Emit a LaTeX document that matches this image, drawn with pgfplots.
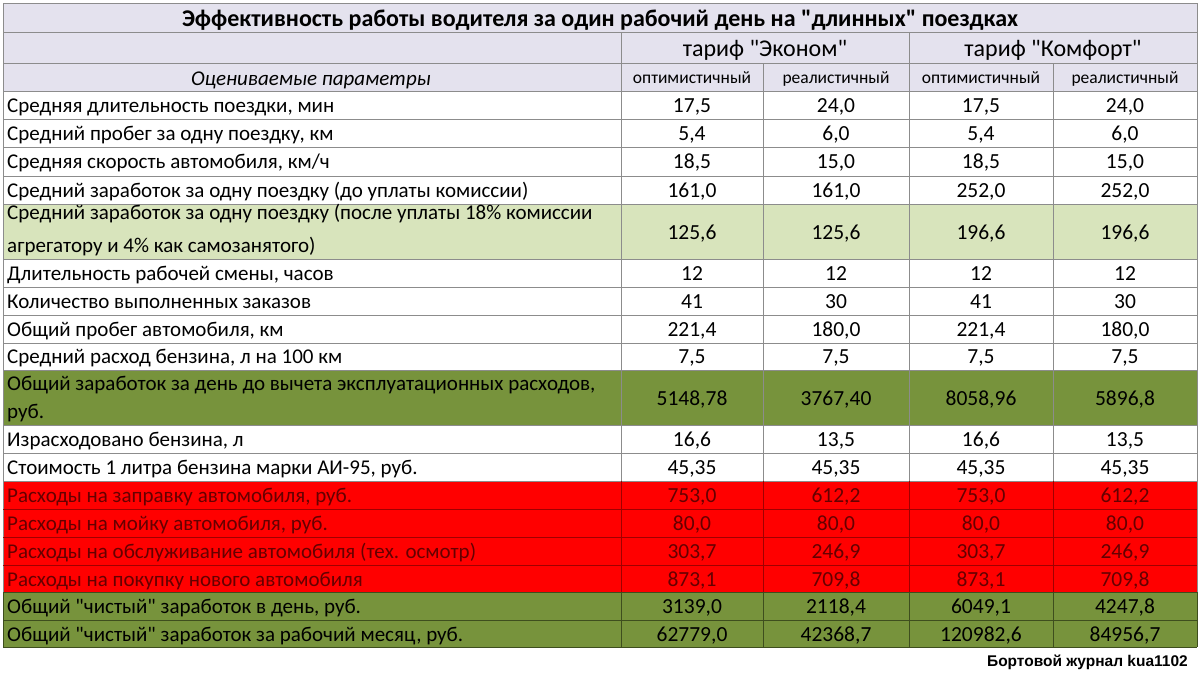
\documentclass[border=0pt]{standalone}
\usepackage{fontspec}
\setmainfont{Carlito}[Ligatures=TeXOff]
\newfontfamily\arialfont{Liberation Sans}[Ligatures=TeXOff]
\usepackage{pgfplots}
\pgfplotsset{compat=1.18}
\definecolor{hdr}{HTML}{E4E2EE}
\definecolor{lgreen}{HTML}{D8E4BC}
\definecolor{olive}{HTML}{77933C}
\definecolor{xred}{HTML}{FF0000}
\definecolor{redtxt}{HTML}{650000}
\definecolor{gridc}{HTML}{8C8C8C}
\definecolor{redline}{HTML}{A00000}
\definecolor{oliveline}{HTML}{3E4E1E}
\newcommand\fs[1]{\fontsize{#1}{#1}\selectfont}
\newcommand\hl[3]{\addplot[gridc, line width=1pt] coordinates {(#1,#3) (#2,#3)};}
\newcommand\vl[3]{\addplot[gridc, line width=1pt] coordinates {(#1,#2) (#1,#3)};}
\newcommand\rhl[4]{\addplot[#4, line width=1pt] coordinates {(#1,#3) (#2,#3)};}
\newcommand\rvl[4]{\addplot[#4, line width=1pt] coordinates {(#1,#2) (#1,#3)};}
\begin{document}
\begin{tikzpicture}
\begin{axis}[width=1200pt, height=675pt, scale only axis,
  xmin=0, xmax=1200, ymin=0, ymax=675, y dir=reverse,
  hide axis, clip=false,
  txt/.style={draw=none, mark=none, nodes near coords, point meta=explicit symbolic,
    every node near coord/.append style={inner sep=0pt, #1}},
]
% backgrounds
\addplot[fill=white, draw=none] coordinates {(0,0) (1200,0) (1200,675) (0,675)} -- cycle;
\addplot[fill=hdr, draw=none] coordinates {(3,3) (1197,3) (1197,91) (3,91)} -- cycle;
\addplot[fill=lgreen, draw=none] coordinates {(3,204) (1197,204) (1197,259) (3,259)} -- cycle;
\addplot[fill=olive, draw=none] coordinates {(3,370) (1197,370) (1197,425) (3,425)} -- cycle;
\addplot[fill=xred, draw=none] coordinates {(3,481) (1197,481) (1197,592) (3,592)} -- cycle;
\addplot[fill=olive, draw=none] coordinates {(3,592) (1197,592) (1197,647) (3,647)} -- cycle;
% grid lines
\hl{3}{1197}{3} \hl{3}{1197}{32} \hl{3}{1197}{63} \hl{3}{1197}{91}
\hl{3}{1197}{119} \hl{3}{1197}{147} \hl{3}{1197}{176} \hl{3}{1197}{204}
\hl{3}{1197}{259} \hl{3}{1197}{287} \hl{3}{1197}{315} \hl{3}{1197}{343}
\hl{3}{1197}{370} \hl{3}{1197}{425} \hl{3}{1197}{453} \hl{3}{1197}{481}
\vl{3}{3}{647} \vl{1197}{3}{647}
\vl{621}{32}{647} \vl{909}{32}{647}
\vl{763}{63}{647} \vl{1053}{63}{647}
% red zone lines
\rhl{3}{1197}{509}{redline} \rhl{3}{1197}{537}{redline} \rhl{3}{1197}{565}{redline}
\rvl{621}{481}{592}{redline} \rvl{763}{481}{592}{redline} \rvl{909}{481}{592}{redline} \rvl{1053}{481}{592}{redline}
% olive zone lines
\rhl{3}{1197}{592}{oliveline} \rhl{3}{1197}{620}{oliveline} \rhl{3}{1197}{647}{oliveline}
\rvl{621}{592}{647}{oliveline} \rvl{763}{592}{647}{oliveline} \rvl{909}{592}{647}{oliveline} \rvl{1053}{592}{647}{oliveline}
\rvl{3}{592}{647}{oliveline} \rvl{1197}{592}{647}{oliveline}
% title and headers
\addplot[txt={anchor=base, font=\bfseries\fs{24}}] coordinates {(600,26) [Эффективность работы водителя за один рабочий день на "длинных" поездках]};
\addplot[txt={anchor=base, font=\fs{24}}] coordinates {(765,56) [тариф "Эконом"] (1053,56) [тариф "Комфорт"]};
\addplot[txt={anchor=base, font=\fs{17.5}}] coordinates {(692,83) [оптимистичный] (836,83) [реалистичный] (981,83) [оптимистичный] (1125,83) [реалистичный]};
\addplot[txt={anchor=base, font=\itshape\fs{21}}] coordinates {(311,85) [Оцениваемые параметры]};
% row labels
\addplot[txt={anchor=base west, font=\fs{21}}] coordinates {
(7,112) [Средняя длительность поездки, мин]
(7,140) [Средний пробег за одну поездку, км]
(7,168) [Средняя скорость автомобиля, км/ч]
(7,197) [Средний заработок за одну поездку (до уплаты комиссии)]
(7,219) [Средний заработок за одну поездку (после уплаты 18\% комиссии]
(7,252) [агрегатору и 4\% как самозанятого)]
(7,280) [Длительность рабочей смены, часов]
(7,308) [Количество выполненных заказов]
(7,336) [Общий пробег автомобиля, км]
(7,363) [Средний расход бензина, л на 100 км]
(7,390) [Общий заработок за день до вычета эксплуатационных расходов,]
(7,418) [руб.]
(7,446) [Израсходовано бензина, л]
(7,474) [Стоимость 1 литра бензина марки АИ-95, руб.]
(7,613) [Общий "чистый" заработок в день, руб.]
(7,641) [Общий "чистый" заработок за рабочий месяц, руб.]
};
\addplot[txt={anchor=base west, font=\fs{21}, text=redtxt}] coordinates {
(7,502) [Расходы на заправку автомобиля, руб.]
(7,530) [Расходы на мойку автомобиля, руб.]
(7,558) [Расходы на обслуживание автомобиля (тех. осмотр)]
(7,586) [Расходы на покупку нового автомобиля]
};
% values: Эконом, оптимистичный
\addplot[txt={anchor=base, font=\fs{21.5}}] coordinates {
(692,112) [17,5] (692,140) [5,4] (692,168) [18,5] (692,197) [161,0] (692,239) [125,6]
(692,280) [12] (692,308) [41] (692,336) [221,4] (692,363) [7,5] (692,405) [5148,78]
(692,446) [16,6] (692,474) [45,35] (692,613) [3139,0] (692,641) [62779,0]
};
% Эконом, реалистичный
\addplot[txt={anchor=base, font=\fs{21.5}}] coordinates {
(836,112) [24,0] (836,140) [6,0] (836,168) [15,0] (836,197) [161,0] (836,239) [125,6]
(836,280) [12] (836,308) [30] (836,336) [180,0] (836,363) [7,5] (836,405) [3767,40]
(836,446) [13,5] (836,474) [45,35] (836,613) [2118,4] (836,641) [42368,7]
};
% Комфорт, оптимистичный
\addplot[txt={anchor=base, font=\fs{21.5}}] coordinates {
(981,112) [17,5] (981,140) [5,4] (981,168) [18,5] (981,197) [252,0] (981,239) [196,6]
(981,280) [12] (981,308) [41] (981,336) [221,4] (981,363) [7,5] (981,405) [8058,96]
(981,446) [16,6] (981,474) [45,35] (981,613) [6049,1] (981,641) [120982,6]
};
% Комфорт, реалистичный
\addplot[txt={anchor=base, font=\fs{21.5}}] coordinates {
(1125,112) [24,0] (1125,140) [6,0] (1125,168) [15,0] (1125,197) [252,0] (1125,239) [196,6]
(1125,280) [12] (1125,308) [30] (1125,336) [180,0] (1125,363) [7,5] (1125,405) [5896,8]
(1125,446) [13,5] (1125,474) [45,35] (1125,613) [4247,8] (1125,641) [84956,7]
};
% expense rows (red)
\addplot[txt={anchor=base, font=\fs{21.5}, text=redtxt}] coordinates {
(692,502) [753,0] (692,530) [80,0] (692,558) [303,7] (692,586) [873,1]
(836,502) [612,2] (836,530) [80,0] (836,558) [246,9] (836,586) [709,8]
(981,502) [753,0] (981,530) [80,0] (981,558) [303,7] (981,586) [873,1]
(1125,502) [612,2] (1125,530) [80,0] (1125,558) [246,9] (1125,586) [709,8]
};
% footer
\addplot[txt={anchor=base east, font=\arialfont\bfseries\fs{15.5}}] coordinates {(1188,666) [Бортовой журнал kua1102]};
\end{axis}
\end{tikzpicture}
\end{document}
